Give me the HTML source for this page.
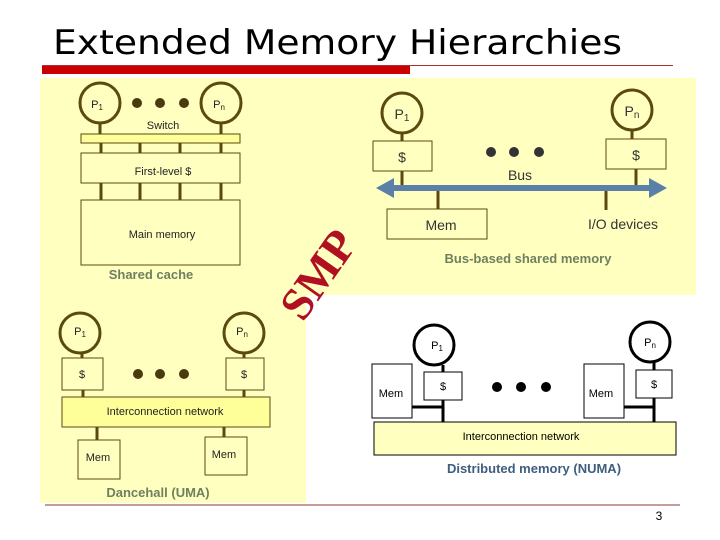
<!DOCTYPE html>
<html><head><meta charset="utf-8"><style>
html,body{margin:0;padding:0;background:#fff;}
svg{display:block;}
</style></head><body>
<svg width="720" height="540" viewBox="0 0 720 540" xmlns="http://www.w3.org/2000/svg" font-family="Liberation Sans, Arial, sans-serif">
<!-- title -->
<text x="53" y="54" style="font-family:'DejaVu Sans',sans-serif" font-size="34" textLength="569" lengthAdjust="spacingAndGlyphs" fill="#000">Extended Memory Hierarchies</text>
<line x1="42" y1="65.5" x2="673" y2="65.5" stroke="#b03030" stroke-width="1"/>
<rect x="42" y="66" width="368" height="8" fill="#c80000"/>
<!-- yellow backgrounds -->
<rect x="40" y="78" width="656" height="217" fill="#ffffc0"/>
<rect x="40" y="295" width="266" height="208" fill="#ffffc0"/>
<line x1="45" y1="505" x2="680" y2="505" stroke="#8a3a3a" stroke-width="1"/>

<g stroke="#5a4a10" fill="none">
<circle cx="100" cy="103" r="20" stroke-width="3"/>
<circle cx="221" cy="103" r="20" stroke-width="3"/>
<line x1="100" y1="123" x2="100" y2="134" stroke-width="3"/>
<line x1="221" y1="123" x2="221" y2="134" stroke-width="3"/>
<rect x="81" y="134" width="159" height="9" fill="#ffff99" stroke-width="1"/>
<g stroke-width="3">
<line x1="101" y1="143" x2="101" y2="153"/><line x1="140" y1="143" x2="140" y2="153"/><line x1="180" y1="143" x2="180" y2="153"/><line x1="221" y1="143" x2="221" y2="153"/>
<line x1="101" y1="183" x2="101" y2="200"/><line x1="140" y1="183" x2="140" y2="200"/><line x1="180" y1="183" x2="180" y2="200"/><line x1="221" y1="183" x2="221" y2="200"/>
</g>
<rect x="81" y="153" width="159" height="30" stroke-width="1"/>
<rect x="81" y="200" width="159" height="65" stroke-width="1"/>

<circle cx="402" cy="113" r="20" stroke-width="3"/>
<circle cx="632" cy="110" r="20" stroke-width="3"/>
<line x1="402" y1="133" x2="402" y2="141" stroke-width="3"/>
<line x1="632" y1="130" x2="632" y2="139" stroke-width="3"/>
<rect x="373" y="141" width="59" height="30" stroke-width="1"/>
<rect x="606" y="139" width="60" height="30" stroke-width="1"/>
<line x1="402" y1="171" x2="402" y2="188" stroke-width="3"/>
<line x1="636" y1="169" x2="636" y2="188" stroke-width="3"/>
<line x1="438" y1="188" x2="438" y2="209" stroke-width="3"/>
<line x1="606" y1="188" x2="606" y2="210" stroke-width="3"/>
<rect x="387" y="209" width="100" height="30" stroke-width="1"/>

<circle cx="80" cy="333" r="20" stroke-width="3"/>
<circle cx="244" cy="333" r="20" stroke-width="3"/>
<line x1="82" y1="353" x2="82" y2="358" stroke-width="3"/>
<line x1="244" y1="353" x2="244" y2="358" stroke-width="3"/>
<rect x="62" y="358" width="41" height="32" stroke-width="1"/>
<rect x="226" y="358" width="38" height="32" stroke-width="1"/>
<line x1="83" y1="390" x2="83" y2="397" stroke-width="3"/>
<line x1="244" y1="390" x2="244" y2="397" stroke-width="3"/>
<rect x="62" y="397" width="208" height="30" fill="#ffff99" stroke-width="1"/>
<line x1="97" y1="427" x2="97" y2="440" stroke-width="3"/>
<line x1="224" y1="427" x2="224" y2="437" stroke-width="3"/>
<rect x="78" y="440" width="42" height="39" stroke-width="1"/>
<rect x="205" y="437" width="42" height="38" stroke-width="1"/>
</g>
<g fill="#4a3a10">
<circle cx="137" cy="103" r="5"/><circle cx="160" cy="103" r="5"/><circle cx="184" cy="103" r="5"/>
<circle cx="138" cy="374" r="5"/><circle cx="160" cy="374" r="5"/><circle cx="184" cy="374" r="5"/>
</g>
<g fill="#333">
<circle cx="491" cy="152" r="5"/><circle cx="514" cy="152" r="5"/><circle cx="539" cy="152" r="5"/>
</g>
<line x1="390" y1="188" x2="655" y2="188" stroke="#5a7fa8" stroke-width="6"/>
<polygon points="376,188 394,178 394,198" fill="#5a7fa8"/>
<polygon points="667,188 649,178 649,198" fill="#5a7fa8"/>

<g stroke="#000" fill="none">
<circle cx="434" cy="345" r="20" stroke-width="3"/>
<circle cx="650" cy="342" r="20" stroke-width="3"/>
<line x1="443" y1="365" x2="443" y2="372" stroke-width="3"/>
<line x1="654" y1="362" x2="654" y2="370" stroke-width="3"/>
<rect x="424" y="372" width="38" height="28" stroke-width="1"/>
<rect x="636" y="370" width="36" height="28" stroke-width="1"/>
<rect x="372" y="364" width="40" height="54" stroke-width="1"/>
<rect x="584" y="364" width="40" height="54" stroke-width="1"/>
<line x1="443" y1="400" x2="443" y2="422" stroke-width="3"/>
<line x1="654" y1="398" x2="654" y2="422" stroke-width="3"/>
<line x1="412" y1="407" x2="443" y2="407" stroke-width="3"/>
<line x1="624" y1="407" x2="654" y2="407" stroke-width="3"/>
<rect x="374" y="422" width="302" height="33" fill="#ffffc0" stroke-width="1"/>
</g>
<g fill="#000"><circle cx="497" cy="387" r="5"/><circle cx="521" cy="387" r="5"/><circle cx="546" cy="387" r="5"/></g>

<g font-size="11" fill="#222" text-anchor="middle">
<text x="97" y="108">P<tspan font-size="8" dy="2">1</tspan></text>
<text x="219" y="108">P<tspan font-size="8" dy="2">n</tspan></text>
<text x="163" y="129">Switch</text>
<text x="163" y="175">First-level $</text>
<text x="162" y="238">Main memory</text>
<text x="80" y="335">P<tspan font-size="8" dy="2">1</tspan></text>
<text x="242" y="335">P<tspan font-size="8" dy="2">n</tspan></text>
<text x="82" y="378">$</text>
<text x="244" y="378">$</text>
<text x="165" y="415">Interconnection network</text>
<text x="98" y="461">Mem</text>
<text x="224" y="458">Mem</text>
</g>
<g font-size="14" fill="#333" text-anchor="middle">
<text x="402" y="119">P<tspan font-size="10" dy="2">1</tspan></text>
<text x="632" y="116">P<tspan font-size="10" dy="2">n</tspan></text>
<text x="402" y="162">$</text>
<text x="636" y="160">$</text>
<text x="520" y="180">Bus</text>
<text x="441" y="230">Mem</text>
<text x="623" y="229">I/O devices</text>
</g>
<g font-size="11" fill="#000" text-anchor="middle">
<text x="437" y="349">P<tspan font-size="8" dy="2">1</tspan></text>
<text x="650" y="346">P<tspan font-size="8" dy="2">n</tspan></text>
<text x="443" y="390">$</text>
<text x="654" y="388">$</text>
<text x="391" y="397">Mem</text>
<text x="601" y="397">Mem</text>
<text x="521" y="440">Interconnection network</text>
</g>
<g font-size="13" font-weight="bold" text-anchor="middle">
<text x="151" y="279" fill="#6f8060">Shared cache</text>
<text x="528" y="263" fill="#6f8060">Bus-based shared memory</text>
<text x="158" y="497" fill="#6f8060">Dancehall (UMA)</text>
<text x="534" y="473" fill="#3e5e7e">Distributed memory (NUMA)</text>
</g>
<text x="0" y="0" style="font-family:'Liberation Serif',serif" font-size="46" font-weight="bold" fill="#b01020" transform="translate(303,323) rotate(-55)">SMP</text>
<text x="659" y="520" font-size="12" fill="#000" text-anchor="middle">3</text>
</svg>
</body></html>
